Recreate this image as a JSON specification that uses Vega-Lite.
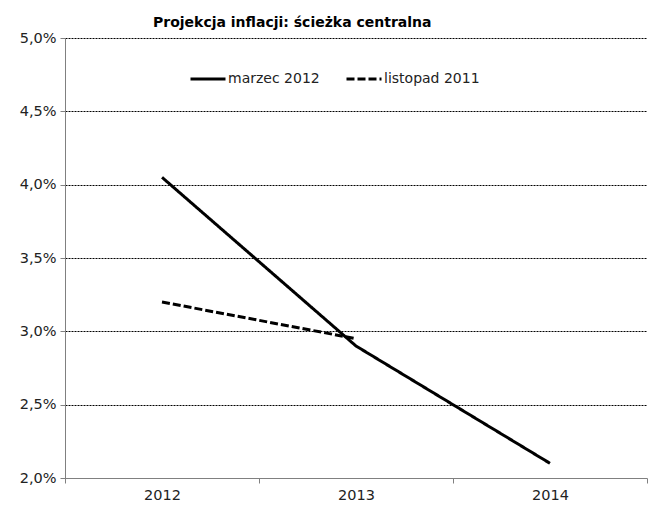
{
  "$schema": "https://vega.github.io/schema/vega-lite/v6.json",
  "width": 582,
  "height": 440,
  "autosize": {"type": "none"},
  "padding": {"left": 65, "top": 38, "right": 2, "bottom": 30},
  "background": "white",
  "title": {
    "text": "Projekcja inflacji: ścieżka centralna",
    "anchor": "start",
    "frame": "group",
    "dx": 88,
    "dy": 4,
    "offset": 4,
    "font": "DejaVu Sans",
    "fontSize": 14,
    "fontWeight": "bold",
    "color": "black"
  },
  "data": {
    "values": [
      {"year": "2012", "series": "marzec 2012", "value": 4.05},
      {"year": "2013", "series": "marzec 2012", "value": 2.9},
      {"year": "2014", "series": "marzec 2012", "value": 2.1},
      {"year": "2012", "series": "listopad 2011", "value": 3.2},
      {"year": "2013", "series": "listopad 2011", "value": 2.95}
    ]
  },
  "mark": {"type": "line", "strokeWidth": 3, "color": "black", "strokeCap": "butt"},
  "encoding": {
    "x": {
      "field": "year",
      "type": "ordinal",
      "bandPosition": 0.5,
      "scale": {"type": "band", "paddingInner": 0, "paddingOuter": 0},
      "axis": {
        "title": null,
        "labelAngle": 0,
        "tickBand": "extent",
        "domainColor": "#808080",
        "tickColor": "#808080",
        "tickSize": 5,
        "labelFont": "DejaVu Sans",
        "labelFontSize": 14.5,
        "labelColor": "#222222",
        "labelPadding": 5,
        "grid": false
      }
    },
    "y": {
      "field": "value",
      "type": "quantitative",
      "scale": {"domain": [2, 5], "zero": false, "nice": false},
      "axis": {
        "title": null,
        "values": [2, 2.5, 3, 3.5, 4, 4.5, 5],
        "labelExpr": "replace(format(datum.value, '.1f'), '.', ',') + '%'",
        "domainColor": "#808080",
        "tickColor": "#808080",
        "tickSize": 5,
        "labelFont": "DejaVu Sans",
        "labelFontSize": 14.5,
        "labelColor": "#222222",
        "labelPadding": 4,
        "grid": true,
        "gridColor": "black",
        "gridDash": [2, 1],
        "gridWidth": 1
      }
    },
    "strokeDash": {
      "field": "series",
      "type": "nominal",
      "scale": {"domain": ["marzec 2012", "listopad 2011"], "range": [[1, 0], [8, 3]]},
      "legend": {
        "title": null,
        "orient": "none",
        "legendX": 124,
        "legendY": 22,
        "direction": "horizontal",
        "symbolType": "stroke",
        "symbolStrokeWidth": 3,
        "symbolStrokeColor": "black",
        "symbolSize": 1225,
        "labelFont": "DejaVu Sans",
        "labelFontSize": 14,
        "labelColor": "#222222",
        "labelOffset": 1,
        "columnPadding": 20
      }
    }
  },
  "config": {"view": {"stroke": null}}
}
